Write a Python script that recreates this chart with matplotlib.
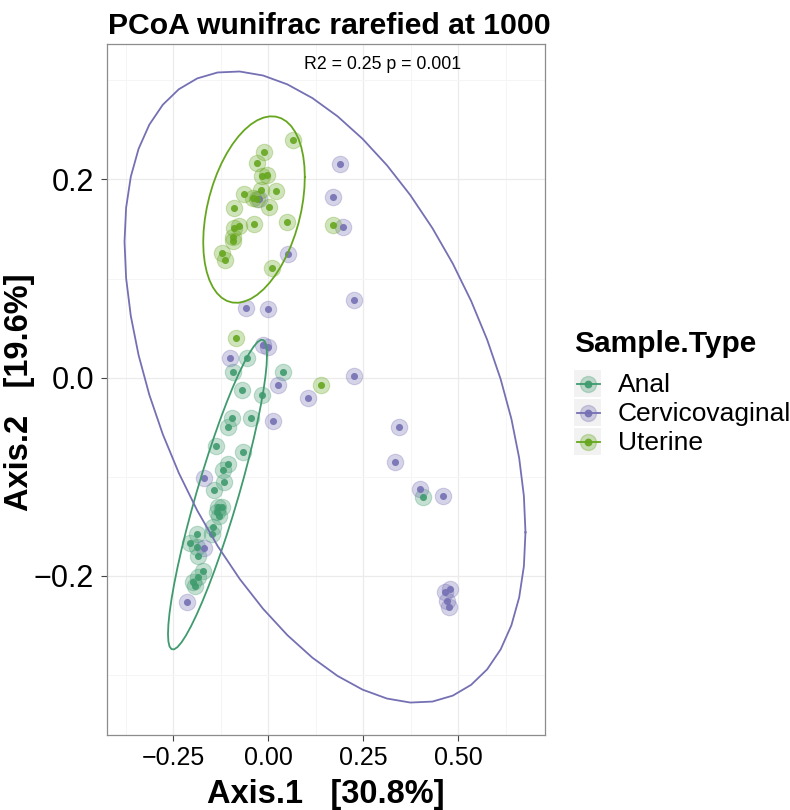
import matplotlib
matplotlib.use("Agg")
import matplotlib.pyplot as plt
import numpy as np
from matplotlib.lines import Line2D
from matplotlib.patches import Rectangle

plt.rcParams["font.family"] = ["Liberation Sans", "DejaVu Sans"]

# ---- data ----
groups = ["Anal", "Cervicovaginal", "Uterine"]
colors = ["#3f9b6e", "#7570b3", "#66a61e"]

anal_x = [-0.0568, -0.0921, 0.0374, -0.0692, -0.0166, -0.0963, -0.0463, -0.1068,
          -0.1376, -0.0658, -0.1061, -0.1184, -0.1174, -0.1424, -0.1311, -0.1211,
          -0.1358, -0.1297, -0.1463, -0.1489, -0.1884, -0.2061, -0.1884, -0.1842,
          -0.1711, -0.1842, -0.1974, -0.1929, 0.4063]
anal_y = [0.0202, 0.0061, 0.0061, -0.0124, -0.0174, -0.0409, -0.0403, -0.0500,
          -0.0684, -0.0752, -0.0875, -0.0931, -0.1057, -0.1133, -0.1301, -0.1301,
          -0.1351, -0.1390, -0.1506, -0.1576, -0.1576, -0.1670, -0.1704, -0.1798,
          -0.1945, -0.2007, -0.2057, -0.2101, -0.1200]

cerv_x = [0.1892, 0.1703, 0.1953, 0.0526, 0.2255, -0.0237, -0.0587, -0.0008,
          -0.0132, 0.0000, -0.1000, 0.0255, 0.1053, 0.2255, 0.0116, -0.1684,
          -0.1705, -0.2132, 0.3447, 0.3334, 0.3992, 0.4597, 0.4782, 0.4650,
          0.4703, 0.4763]
cerv_y = [0.2160, 0.1820, 0.1525, 0.1248, 0.0784, 0.1799, 0.0706, 0.0690,
          0.0330, 0.0307, 0.0196, -0.0074, -0.0202, 0.0020, -0.0437, -0.1015,
          -0.1721, -0.2259, -0.0494, -0.0853, -0.1126, -0.1196, -0.2133, -0.2158,
          -0.2252, -0.2316]

uter_x = [0.0642, -0.0121, -0.0305, -0.0158, -0.0042, -0.0192, 0.0203, -0.0639,
          -0.0395, -0.0305, 0.0011, -0.0895, -0.0368, 0.0492, -0.0763, -0.0895,
          -0.0921, -0.0921, -0.1211, -0.1139, 0.0097, 0.1711, -0.0850, 0.1387]
uter_y = [0.2397, 0.2279, 0.2168, 0.2034, 0.2044, 0.1893, 0.1886, 0.1850,
          0.1809, 0.1799, 0.1725, 0.1709, 0.1547, 0.1567, 0.1530, 0.1507,
          0.1422, 0.1382, 0.1261, 0.1184, 0.1109, 0.1540, 0.0403, -0.0074]

# 95% ellipses: centre, half extents along each axis, correlation
ell_cx = [-0.1337, 0.1492, -0.0376]
ell_cy = [-0.1179, -0.0094, 0.1696]
ell_wx = [0.1303, 0.5276, 0.1337]
ell_wy = [0.1563, 0.3185, 0.0941]
ell_rho = [0.90, -0.46, 0.35]

xs = [anal_x, cerv_x, uter_x]
ys = [anal_y, cerv_y, uter_y]

x_major = [-0.25, 0.0, 0.25, 0.5]
x_labels = ["\u22120.25", "0.00", "0.25", "0.50"]
y_major = [-0.2, 0.0, 0.2]
y_labels = ["\u22120.2", "0.0", "0.2"]

W, H = 790, 810


def fx(px):
    return px / W


def fy(py):
    return 1 - py / H


def ellipse(cx, cy, wx, wy, rho, n=51):
    t = np.linspace(0, 2 * np.pi, n)
    ex = cx + wx * np.cos(t)
    ey = cy + wy * (rho * np.cos(t) + np.sqrt(1 - rho ** 2) * np.sin(t))
    return ex, ey


fig = plt.figure(figsize=(7.9, 8.1), dpi=100)
ax = fig.add_axes([fx(106.7), fy(735), fx(545) - fx(106.7), fy(44.3) - fy(735)])

# halos first, then dots, then ellipses (ggplot layer order)
for gx, gy, c in zip(xs, ys, colors):
    ax.scatter(gx, gy, s=140, color=c, alpha=0.3, linewidths=0.8, zorder=3)
for gx, gy, c in zip(xs, ys, colors):
    ax.scatter(gx, gy, s=26, color=c, alpha=0.9, linewidths=0, zorder=4)
for i, c in enumerate(colors):
    ex, ey = ellipse(ell_cx[i], ell_cy[i], ell_wx[i], ell_wy[i], ell_rho[i])
    ax.plot(ex, ey, color=c, lw=1.3, zorder=5)

ax.set_xlim(-0.4253, 0.7282)
ax.set_ylim(-0.3604, 0.3363)
ax.set_xticks(x_major)
ax.set_xticklabels(x_labels, fontsize=18)
ax.set_yticks(y_major)
ax.set_yticklabels(y_labels, fontsize=22)
ax.set_xticks([-0.375, -0.125, 0.125, 0.375, 0.625], minor=True)
ax.set_yticks([-0.3, -0.1, 0.1, 0.3], minor=True)
ax.tick_params(which="major", length=4, width=0.8, color="#444444", pad=4)
ax.tick_params(axis="y", which="major", pad=5)
ax.tick_params(which="minor", length=0)
ax.grid(which="major", color="#ebebeb", lw=0.9, zorder=0)
ax.grid(which="minor", color="#f5f5f5", lw=0.7, zorder=0)
ax.set_axisbelow(True)
for sp in ax.spines.values():
    sp.set_color("#8c8c8c")
    sp.set_linewidth(0.9)

ax.text(0.30, 0.316, "R2 = 0.25 p = 0.001", fontsize=12.8, ha="center", va="center")

# titles
fig.text(fx(107.5), fy(34), "PCoA wunifrac rarefied at 1000", fontsize=21.7,
         fontweight="bold", va="baseline", ha="left")
fig.text(fx(325.9), fy(803), "Axis.1   [30.8%]", fontsize=23.5, fontweight="bold",
         ha="center", va="baseline")
fig.text(fx(20), fy(391.7), "Axis.2   [19.6%]", fontsize=23.5, fontweight="bold",
         ha="center", va="center", rotation=90)

# legend drawn by hand (ggplot style keys)
fig.text(fx(574), fy(351.7), "Sample.Type", fontsize=21.5, fontweight="bold",
         ha="left", va="baseline")
key_y = [384, 412.7, 441.7]
for g, c, ky in zip(groups, colors, key_y):
    fig.patches.append(Rectangle((fx(574), fy(ky + 13.5)), fx(27), 27 / H,
                                 transform=fig.transFigure, facecolor="#f2f2f2",
                                 edgecolor="none"))
    fig.lines.append(Line2D([fx(576.5), fx(599.5)], [fy(ky), fy(ky)],
                            transform=fig.transFigure, color=c, lw=1.3))
    fig.lines.append(Line2D([fx(587.5)], [fy(ky)], transform=fig.transFigure,
                            marker="o", markersize=11.5, color=c, alpha=0.3, lw=0))
    fig.lines.append(Line2D([fx(587.5)], [fy(ky)], transform=fig.transFigure,
                            marker="o", markersize=4.6, color=c, alpha=0.9, lw=0))
    fig.text(fx(617.7), fy(ky + 1), g, fontsize=19, ha="left", va="center")

fig.savefig("out.png", dpi=100)
